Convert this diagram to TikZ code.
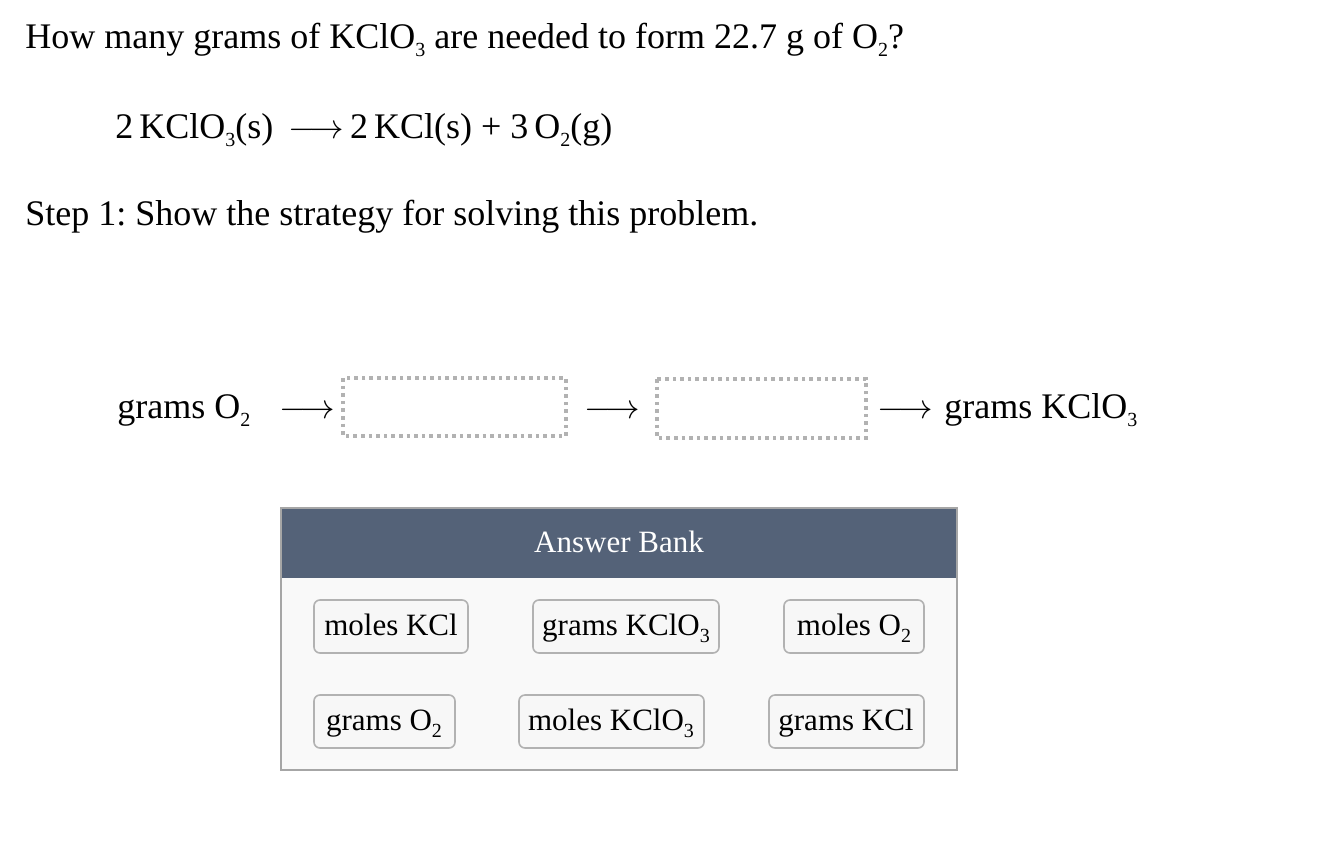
\documentclass[tikz,border=0pt]{standalone}
\usepackage{fontspec}
\setmainfont{Liberation Serif}
\frenchspacing
\newcommand{\chs}[1]{\raisebox{-0.5ex}{\normalsize #1}}
\newcommand{\arr}{\,$\longrightarrow$\,}
\begin{document}
\begin{tikzpicture}[x=0.5pt,y=-0.5pt,font=\fontsize{18}{21}\selectfont,
  txt/.style={anchor=base west,inner sep=0},
  slot/.style={draw=gray!60,line width=1.8pt,dotted},
  btn/.style={draw=gray!60,rounded corners=3pt,fill=gray!6,line width=0.8pt},
  btxt/.style={anchor=base,inner sep=0,font=\fontsize{15.5}{18}\selectfont}]
\useasboundingbox (0,0) rectangle (1344,852);
\node[txt] (q) at (25,48) {How many grams of KClO\chs{3} are needed to form 22.7 g of O\chs{2}?};
\node[txt] (eq) at (115,138) {2\,KClO\chs{3}(s) \arr 2\,KCl(s) + 3\,O\chs{2}(g)};
\node[txt] (st) at (25,225) {Step 1: Show the strategy for solving this problem.};
\node[txt] (g) at (117,418) {grams O\chs{2}};
\node[txt] (a1) at (279,418) {$\longrightarrow$};
\draw[slot] (343,378) rectangle (566,436);
\node[txt] (a2) at (584,418) {$\longrightarrow$};
\draw[slot] (657,379) rectangle (866,438);
\node[txt] (a3) at (877,418) {$\longrightarrow$};
\node[txt] (gk) at (944,418) {grams KClO\chs{3}};
% answer bank
\fill[gray!5] (281,578) rectangle (957,770);
\fill[fill={rgb,255:red,84;green,98;blue,120}] (281,508) rectangle (957,578);
\draw[gray!70,line width=0.8pt] (281,508) rectangle (957,770);
\node[btxt,text=white] (ab) at (619,552) {Answer Bank};
\draw[btn] (314,600) rectangle (468,653); \node[btxt] (m1) at (391,635) {moles KCl};
\draw[btn] (533,600) rectangle (719,653); \node[btxt] (m2) at (626,635) {grams KClO\chs{3}};
\draw[btn] (784,600) rectangle (924,653); \node[btxt] (m3) at (854,635) {moles O\chs{2}};
\draw[btn] (314,695) rectangle (455,748); \node[btxt] (m4) at (384,730) {grams O\chs{2}};
\draw[btn] (519,695) rectangle (704,748); \node[btxt] (m5) at (611,730) {moles KClO\chs{3}};
\draw[btn] (769,695) rectangle (924,748); \node[btxt] (m6) at (846,730) {grams KCl};
\end{tikzpicture}
\end{document}
